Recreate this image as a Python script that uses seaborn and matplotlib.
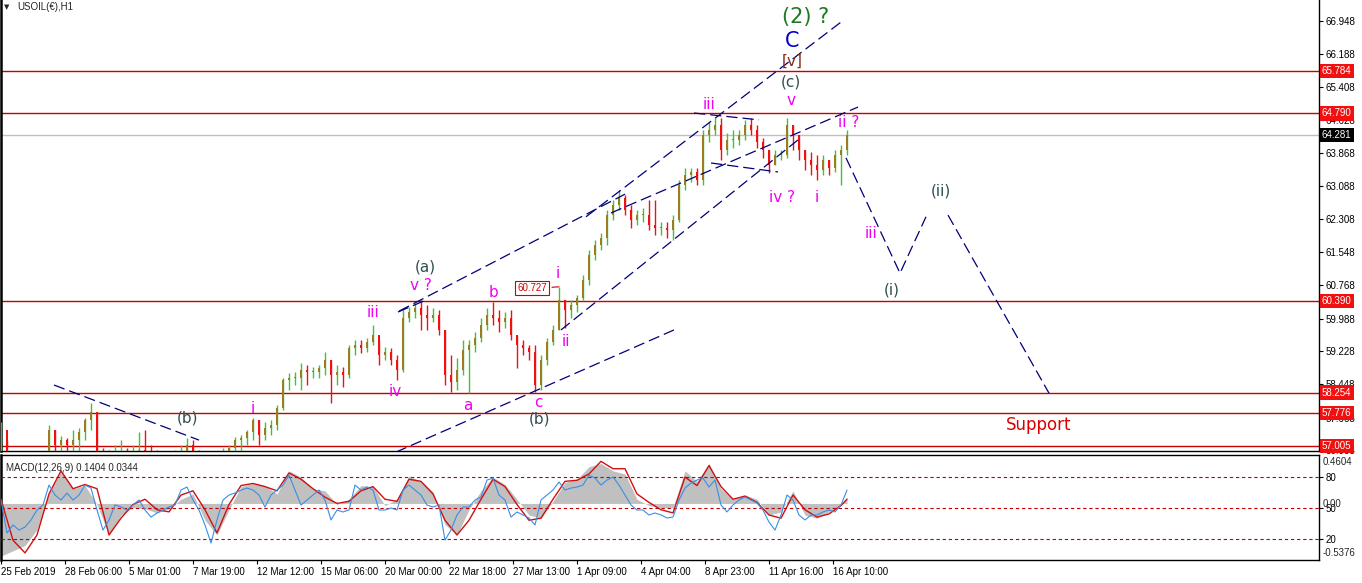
import numpy as np
import pandas as pd
import matplotlib
matplotlib.use("Agg")
import matplotlib.pyplot as plt
import seaborn as sns

sns.set_style("white")
plt.rcParams["font.family"] = ["DejaVu Sans"]

# USOIL H1, one bar read every 6 hours
high = [57.56, 57.14, 56.79, 56.63, 56.56, 56.63, 56.72, 56.86, 57.49, 57.38,
        57.24, 57.19, 57.38, 57.42, 57.66, 58.01, 57.80, 56.96, 56.91, 57.03,
        57.14, 56.96, 57.03, 57.33, 57.38, 57.03, 56.91, 56.86, 56.79, 56.91,
        57.03, 57.19, 57.14, 56.91, 56.79, 56.79, 56.86, 56.96, 57.03, 57.21,
        57.26, 57.38, 57.66, 57.61, 57.56, 57.61, 57.96, 58.59, 58.71, 58.73,
        58.95, 58.90, 58.85, 58.90, 59.20, 59.02, 58.90, 58.85, 59.37, 59.48,
        59.48, 59.53, 59.84, 59.48, 59.32, 59.30, 59.13, 60.19, 60.26, 60.35,
        60.42, 60.30, 60.23, 60.19, 59.72, 59.13, 59.06, 59.48, 59.48, 59.67,
        60.00, 60.23, 60.37, 60.19, 60.14, 60.19, 59.60, 59.48, 59.37, 59.37,
        59.13, 59.53, 59.84, 60.73, 60.42, 60.42, 60.54, 61.01, 61.59, 61.83,
        61.99, 62.53, 62.76, 63.00, 62.88, 62.65, 62.53, 62.58, 62.76, 62.76,
        62.25, 62.25, 62.41, 63.23, 63.51, 63.51, 63.51, 64.40, 64.59, 64.68,
        64.68, 64.33, 64.40, 64.40, 64.64, 64.68, 64.52, 64.22, 63.93, 63.93,
        63.93, 64.68, 64.52, 64.29, 63.93, 63.89, 63.82, 63.82, 63.70, 63.93,
        64.05, 64.40]
low = [56.79, 56.44, 56.21, 56.09, 55.97, 56.09, 56.21, 56.32, 56.72, 56.79,
       56.72, 56.67, 56.79, 56.86, 57.14, 57.38, 56.67, 56.44, 56.39, 56.49,
       56.56, 56.44, 56.49, 56.67, 56.63, 56.44, 56.32, 56.25, 56.25, 56.32,
       56.44, 56.67, 56.56, 56.39, 56.25, 56.32, 56.39, 56.49, 56.63, 56.72,
       56.86, 57.03, 57.14, 57.03, 57.14, 57.26, 57.38, 57.85, 58.31, 58.43,
       58.31, 58.43, 58.59, 58.59, 58.66, 58.01, 58.43, 58.38, 58.59, 59.13,
       59.18, 59.20, 59.37, 58.90, 59.02, 58.90, 58.55, 58.73, 59.91, 60.00,
       59.72, 59.72, 59.91, 59.60, 58.43, 58.27, 58.31, 58.66, 58.24, 59.20,
       59.44, 59.72, 59.84, 59.67, 59.76, 59.48, 58.83, 59.13, 59.02, 58.27,
       58.31, 58.90, 59.37, 59.72, 59.76, 60.00, 60.14, 60.42, 60.77, 61.36,
       61.59, 61.71, 62.30, 62.53, 62.41, 62.11, 62.18, 62.25, 62.06, 61.94,
       61.94, 61.87, 61.83, 62.25, 63.00, 63.18, 63.11, 63.11, 64.12, 64.29,
       63.70, 63.82, 63.98, 64.05, 64.17, 64.29, 63.98, 63.75, 63.40, 63.58,
       63.70, 63.75, 63.93, 63.70, 63.47, 63.35, 63.23, 63.35, 63.35, 63.42,
       63.11, 63.82]
close = [57.38, 56.67, 56.44, 56.32, 56.21, 56.44, 56.56, 56.72, 57.38, 57.03,
         57.14, 57.03, 57.14, 57.33, 57.61, 57.80, 56.79, 56.67, 56.63, 56.79,
         56.79, 56.67, 56.79, 56.91, 56.72, 56.63, 56.56, 56.49, 56.44, 56.67,
         56.79, 57.03, 56.79, 56.56, 56.49, 56.56, 56.67, 56.79, 56.96, 57.14,
         57.19, 57.33, 57.61, 57.26, 57.42, 57.49, 57.89, 58.55, 58.59, 58.59,
         58.78, 58.73, 58.73, 58.83, 59.02, 58.66, 58.73, 58.66, 59.30, 59.37,
         59.30, 59.44, 59.60, 59.13, 59.20, 59.02, 58.78, 60.00, 60.14, 60.23,
         60.07, 60.00, 60.07, 59.72, 58.66, 58.50, 58.78, 59.25, 59.37, 59.53,
         59.84, 60.07, 60.00, 59.91, 60.00, 59.60, 59.37, 59.30, 59.20, 58.43,
         59.02, 59.44, 59.72, 60.42, 60.19, 60.30, 60.47, 60.89, 61.48, 61.71,
         61.87, 62.41, 62.65, 62.81, 62.53, 62.30, 62.41, 62.41, 62.18, 62.11,
         62.11, 62.06, 62.30, 63.11, 63.35, 63.42, 63.23, 64.29, 64.40, 64.52,
         63.93, 64.17, 64.17, 64.29, 64.52, 64.40, 64.12, 63.93, 63.58, 63.82,
         63.82, 64.52, 64.29, 63.93, 63.70, 63.58, 63.47, 63.70, 63.51, 63.82,
         63.93, 64.28]

# MACD(12,26,9) read every 12 hours, last point at the final bar
macd_main = [-0.50, -0.45, -0.40, -0.25, 0.09, 0.31, 0.14, 0.17, -0.01, -0.30,
             -0.11, -0.04, -0.05, -0.09, -0.05, 0.04, 0.09, -0.16, -0.30, -0.06,
             0.16, 0.19, 0.17, 0.09, 0.31, 0.25, 0.14, 0.12, -0.01, 0.04,
             0.17, 0.16, -0.02, 0.04, 0.26, 0.21, 0.11, -0.20, -0.30, -0.06,
             0.12, 0.25, 0.18, 0.04, -0.11, -0.14, 0.02, 0.20, 0.23, 0.35,
             0.38, 0.31, 0.28, 0.04, -0.02, -0.04, -0.04, 0.31, 0.21, 0.38,
             0.14, 0.04, 0.08, 0.04, -0.11, -0.08, 0.12, -0.11, -0.14, -0.08,
             -0.01, 0.06]
macd_signal = [0.04, -0.35, -0.47, -0.30, 0.09, 0.31, 0.14, 0.18, 0.14, -0.30,
               -0.14, -0.01, 0.04, -0.06, -0.08, 0.08, 0.12, -0.06, -0.28, -0.01,
               0.17, 0.19, 0.16, 0.12, 0.29, 0.23, 0.14, 0.06, 0.00, 0.02,
               0.12, 0.16, 0.04, 0.02, 0.23, 0.21, 0.09, -0.16, -0.30, -0.16,
               0.04, 0.23, 0.16, -0.01, -0.16, -0.14, 0.04, 0.21, 0.22, 0.28,
               0.40, 0.33, 0.33, 0.09, 0.01, -0.06, -0.09, 0.25, 0.17, 0.36,
               0.16, 0.04, 0.07, 0.01, -0.11, -0.14, 0.08, -0.06, -0.13, -0.10,
               -0.02, 0.04]
# oscillator (0-100 scale, levels 20/50/80), one value every 6 hours
osc_blue = [57.7, 26.0, 33.7, 28.8, 31.7, 38.5, 48.1, 52.9, 72.1, 62.5,
            57.7, 64.4, 57.7, 62.5, 72.1, 69.2, 48.1, 28.8, 38.5, 52.9,
            51.0, 48.1, 52.9, 57.7, 48.1, 41.3, 45.2, 48.1, 51.0, 52.9,
            67.3, 70.2, 57.7, 48.1, 33.7, 16.3, 38.5, 57.7, 62.5, 64.4,
            67.3, 69.2, 67.3, 62.5, 51.0, 62.5, 67.3, 72.1, 81.7, 67.3,
            52.9, 57.7, 62.5, 67.3, 57.7, 38.5, 48.1, 46.2, 48.1, 72.1,
            67.3, 70.2, 67.3, 48.1, 48.1, 50.0, 48.1, 67.3, 72.1, 67.3,
            62.5, 52.9, 51.0, 52.9, 19.2, 28.8, 43.3, 51.0, 51.0, 57.7,
            60.6, 76.9, 78.8, 62.5, 57.7, 41.3, 46.2, 43.3, 40.4, 33.7,
            57.7, 62.5, 67.3, 75.0, 67.3, 69.2, 70.2, 72.1, 81.7, 78.8,
            72.1, 76.9, 79.8, 72.1, 62.5, 52.9, 48.1, 48.1, 43.3, 45.2,
            43.3, 40.4, 41.3, 57.7, 69.2, 74.0, 76.9, 78.8, 70.2, 76.9,
            52.9, 46.2, 52.9, 57.7, 60.6, 57.7, 54.8, 48.1, 36.5, 28.8,
            43.3, 62.5, 57.7, 43.3, 38.5, 43.3, 43.3, 46.2, 48.1, 46.2,
            52.9, 67.3]

levels = [65.784, 64.790, 60.390, 58.254, 57.776, 57.005]
last_price = 64.281
price_ticks = [66.948, 66.188, 65.408, 64.628, 63.868, 63.088, 62.308,
               61.548, 60.768, 59.988, 59.228, 58.448, 57.668, 56.908]
date_labels = ["25 Feb 2019", "28 Feb 06:00", "5 Mar 01:00", "7 Mar 19:00",
               "12 Mar 12:00", "15 Mar 06:00", "20 Mar 00:00", "22 Mar 18:00",
               "27 Mar 13:00", "1 Apr 09:00", "4 Apr 04:00", "8 Apr 23:00",
               "11 Apr 16:00", "16 Apr 10:00"]

# analyst drawings: (hour index, price)
trend_lines = [
    ((53, 58.43), (198, 57.14)),
    ((398, 60.16), (624, 62.90)),
    ((397, 60.14), (423, 60.40)),
    ((395, 56.86), (673, 59.72)),
    ((585, 62.37), (840, 66.93)),
    ((560, 59.72), (797, 64.17)),
    ((610, 62.46), (857, 64.94)),
    ((693, 64.80), (758, 64.64)),
    ((710, 63.63), (777, 63.42)),
]
projection = [[(845, 63.75), (899, 61.05), (925, 62.37)],
              [(947, 62.41), (1048, 58.24)]]

MAG = "#f000f0"
SLATE = "#2f4f4f"
wave_labels = [
    (805, 67.05, "(2) ?", "#1f7a1f", 15),
    (791, 66.49, "C", "#0000c8", 15),
    (791, 66.02, "[v]", "#8b2a1a", 11),
    (790, 65.53, "(c)", SLATE, 11),
    (790, 65.09, "v", MAG, 11),
    (708, 64.99, "iii", MAG, 11),
    (848, 64.57, "ii ?", MAG, 11),
    (781, 62.83, "iv ?", MAG, 11),
    (816, 62.83, "i", MAG, 11),
    (940, 62.97, "(ii)", SLATE, 11),
    (870, 61.99, "iii", MAG, 11),
    (891, 60.66, "(i)", SLATE, 11),
    (424, 61.19, "(a)", SLATE, 11),
    (420, 60.75, "v ?", MAG, 11),
    (372, 60.12, "iii", MAG, 11),
    (394, 58.29, "iv", MAG, 11),
    (492, 60.59, "b", MAG, 11),
    (467, 57.94, "a", MAG, 11),
    (537, 58.01, "c", MAG, 11),
    (538, 57.63, "(b)", SLATE, 11),
    (557, 61.05, "i", MAG, 11),
    (565, 59.44, "ii", MAG, 11),
    (186, 57.66, "(b)", SLATE, 11),
    (252, 57.87, "i", MAG, 11),
]

W, H = 1362, 583
fig = plt.figure(figsize=(W / 100, H / 100), dpi=100)
ax = fig.add_axes([1 / W, 132 / H, 1318 / W, 451 / H])
axm = fig.add_axes([1 / W, 23 / H, 1318 / W, 105 / H])

AX_FONT = ["Liberation Sans", "DejaVu Sans"]

# ---- price panel ----
bars = pd.DataFrame({"x": np.arange(len(close)) * 6, "high": high, "low": low, "close": close})
bars["open"] = bars["close"].shift(1).fillna(bars["close"].iloc[0])
up = bars["close"] >= bars["open"]
ax.vlines(bars["x"], bars["low"], bars["high"], colors=np.where(up, "#3cc43c", "#e81414"), lw=1.0, zorder=3)
body_lo = bars[["open", "close"]].min(axis=1)
body_h = (bars["close"] - bars["open"]).abs().clip(lower=0.03)
ax.bar(bars["x"], body_h, bottom=body_lo, width=2.4, color=np.where(up, "#a07a20", "#f01010"),
       lw=0, zorder=4)

for lv in levels:
    ax.axhline(lv, color="#c80000", lw=1.0, zorder=2)
ax.axhline(last_price, color="#c0c0c0", lw=1.0, zorder=1)

for (x0, y0), (x1, y1) in trend_lines:
    ax.plot([x0, x1], [y0, y1], color="#00007a", lw=0.9, dashes=(9, 4), zorder=5)
for seg in projection:
    ax.plot([p[0] for p in seg], [p[1] for p in seg], color="#00007a", lw=0.9, dashes=(9, 4), zorder=5)

for x, y, t, c, s in wave_labels:
    ax.text(x, y, t, color=c, fontsize=s, ha="center", va="center", zorder=6)

ax.text(1038, 57.49, "Support", color="#dd0000", fontsize=12, ha="center", va="center")
ax.text(531, 60.70, "60.727", color="#d00000", fontsize=7, ha="center", va="center",
        family=AX_FONT, bbox=dict(boxstyle="square,pad=0.2", fc="white", ec="#d00000", lw=0.8), zorder=7)
ax.plot([551, 558], [60.72, 60.73], color="#d00000", lw=0.8, zorder=7)

ax.set_xlim(0, 1318)
ax.set_ylim(56.885, 67.447)
ax.set_xticks([])
ax.yaxis.tick_right()
ax.set_yticks(price_ticks)
ax.set_yticklabels([f"{v:.3f}" for v in price_ticks], family=AX_FONT)
ax.tick_params(axis="y", right=True, length=3, width=0.8, pad=1.5, labelsize=7, colors="black")
for sp in ["left", "right", "bottom"]:
    ax.spines[sp].set_color("black")
    ax.spines[sp].set_linewidth(1.0)
ax.spines["left"].set_linewidth(1.8)
ax.spines["top"].set_visible(False)

ytr = ax.get_yaxis_transform()
for lv in levels:
    ax.text(1.0022, lv, f"{lv:.3f}", transform=ytr, color="white", fontsize=7, ha="left", va="center",
            family=AX_FONT, bbox=dict(boxstyle="square,pad=0.22", fc="#f01010", ec="none"), zorder=10,
            clip_on=False)
ax.text(1.0022, last_price, f"{last_price:.3f}", transform=ytr, color="white", fontsize=7, ha="left",
        va="center", family=AX_FONT, bbox=dict(boxstyle="square,pad=0.22", fc="black", ec="none"),
        zorder=10, clip_on=False)

ax.text(16 / 1318, 1 - 7 / 451, "USOIL(€),H1", transform=ax.transAxes, fontsize=7, ha="left",
        va="center", family=AX_FONT)
ax.text(6 / 1318, 1 - 7 / 451, "▼", transform=ax.transAxes, fontsize=5, ha="center", va="center")

# ---- MACD panel ----
macd_x = list(range(0, 841, 12)) + [846]
osc_x = np.arange(len(osc_blue)) * 6
axm.fill_between(macd_x, 0, macd_main, color="#c0c0c0", lw=0, zorder=1)
sns.lineplot(x=macd_x, y=macd_signal, ax=axm, color="#d01010", lw=1.0, zorder=3)
axm.set_xlim(0, 1318)
axm.set_ylim(-0.5376, 0.4604)
axm.set_yticks([])
axm.set_xlabel("")
axm.set_ylabel("")
axm.set_xticks(np.arange(len(date_labels)) * 64)
axm.set_xticklabels(date_labels, family=AX_FONT, fontsize=7, ha="left")
axm.tick_params(axis="x", bottom=True, length=3, width=0.8, pad=2, colors="black")
for sp in axm.spines.values():
    sp.set_color("black")
    sp.set_linewidth(1.0)
axm.spines["left"].set_linewidth(1.8)

axo = axm.twinx()
sns.lineplot(x=osc_x, y=osc_blue, ax=axo, color="#3a8ee6", lw=0.8, zorder=2)
for lv in [80, 50, 20]:
    axo.axhline(lv, color="#c00000", lw=0.8, dashes=(3, 2.5), zorder=1)
axo.set_ylim(0, 101)
axo.set_xlim(0, 1318)
axo.set_ylabel("")
axo.set_yticks([80, 50, 20])
axo.set_yticklabels(["80", "50", "20"], family=AX_FONT)
axo.tick_params(axis="y", right=True, length=3, width=0.8, pad=1.5, labelsize=7, colors="black")
for sp in axo.spines.values():
    sp.set_visible(False)
otr = axo.get_yaxis_transform()
for yv, t in [(94.0, "0.4604"), (53.5, "0.00"), (6.8, "-0.5376")]:
    axo.text(1.003, yv, t, transform=otr, fontsize=7, ha="left", va="center", family=AX_FONT,
             clip_on=False)

axm.text(5 / 1318, 0.88, "MACD(12,26,9) 0.1404 0.0344", transform=axm.transAxes, fontsize=7,
         ha="left", va="center", family=AX_FONT, zorder=8)

fig.savefig("out.png", dpi=100, facecolor="white")
